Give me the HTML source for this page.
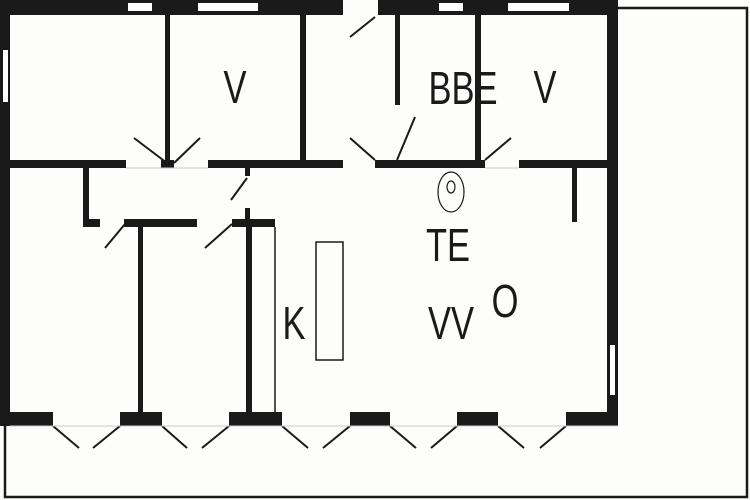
<!DOCTYPE html>
<html><head><style>html,body{margin:0;padding:0;background:#fff}svg{display:block}text{font-family:"Liberation Sans",sans-serif;fill:#1a1a1a}</style></head>
<body>
<svg width="750" height="500" viewBox="0 0 750 500" xmlns="http://www.w3.org/2000/svg">
<rect width="750" height="500" fill="#fdfdfb"/>
<g fill="none" stroke="#1a1a1a" stroke-width="2.5">
<polyline points="618,8 747,8 747,497 5,497 5,424"/>
</g>
<g fill="#1a1a1a">
<!-- outer walls -->
<rect x="0" y="0" width="343" height="15"/>
<rect x="378" y="0" width="240" height="15"/>
<rect x="0" y="0" width="10" height="426"/>
<rect x="607" y="0" width="11" height="426"/>
<!-- bottom wall blocks -->
<rect x="0" y="412" width="53" height="14"/>
<rect x="120" y="412" width="42" height="14"/>
<rect x="229" y="412" width="53" height="14"/>
<rect x="350" y="412" width="40" height="14"/>
<rect x="457" y="412" width="41" height="14"/>
<rect x="566" y="412" width="52" height="14"/>
<!-- upper room walls -->
<rect x="10" y="160" width="116" height="8"/>
<rect x="161" y="160" width="13" height="8"/>
<rect x="208" y="160" width="135" height="8"/>
<rect x="165" y="15" width="5" height="150"/>
<rect x="300" y="15" width="6" height="148"/>
<rect x="395" y="15" width="5" height="90"/>
<rect x="475" y="15" width="6" height="150"/>
<rect x="375" y="160" width="110" height="8"/>
<rect x="519" y="160" width="89" height="8"/>
<rect x="572" y="168" width="5" height="54"/>
<!-- hallway -->
<rect x="83" y="168" width="6" height="59"/>
<rect x="83" y="219" width="17" height="8"/>
<rect x="124" y="219" width="73" height="8"/>
<rect x="232" y="219" width="43" height="8"/>
<rect x="245" y="168" width="5" height="8"/>
<rect x="245" y="208" width="5" height="19"/>
<rect x="138" y="222" width="5" height="190"/>
<rect x="246" y="222" width="6" height="190"/>
</g>
<!-- windows -->
<g fill="#fff">
<rect x="128" y="3" width="24" height="8"/>
<rect x="198" y="3" width="60" height="8"/>
<rect x="439" y="3" width="24" height="8"/>
<rect x="508" y="3" width="61" height="8"/>
<rect x="3" y="50" width="5" height="52"/>
<rect x="610" y="345" width="5" height="50"/>
</g>
<g stroke="#1a1a1a" stroke-width="2" fill="none">
<line x1="275" y1="227" x2="275" y2="412" stroke-width="1.5"/>
<rect x="316" y="242" width="27" height="118" stroke-width="1.5"/>
<line x1="167" y1="163" x2="134" y2="138"/>
<line x1="174" y1="163" x2="200" y2="138"/>
<line x1="350" y1="37" x2="375" y2="17"/>
<line x1="350" y1="138" x2="375" y2="160"/>
<line x1="397" y1="160" x2="415" y2="117"/>
<line x1="485" y1="160" x2="511" y2="138"/>
<line x1="231" y1="200" x2="247" y2="178"/>
<line x1="105" y1="248" x2="125" y2="224"/>
<line x1="205" y1="248" x2="232" y2="224"/>
<line x1="53" y1="426" x2="79" y2="448"/>
<line x1="93" y1="448" x2="120" y2="426"/>
<line x1="162" y1="426" x2="187" y2="448"/>
<line x1="202" y1="448" x2="229" y2="426"/>
<line x1="282" y1="426" x2="308" y2="448"/>
<line x1="323" y1="448" x2="350" y2="426"/>
<line x1="390" y1="426" x2="416" y2="448"/>
<line x1="431" y1="448" x2="457" y2="426"/>
<line x1="498" y1="426" x2="524" y2="448"/>
<line x1="540" y1="448" x2="566" y2="426"/>
<ellipse cx="451" cy="192" rx="13" ry="20" stroke-width="1.2"/>
<ellipse cx="451" cy="187" rx="4" ry="6" stroke-width="1.2"/>
</g>
<g stroke="#ccc" stroke-width="1">
<line x1="10" y1="426" x2="618" y2="426"/>
<line x1="126" y1="168" x2="208" y2="168"/>
<line x1="485" y1="168" x2="519" y2="168"/>
</g>
<g font-size="46">
<text x="235" y="103" text-anchor="middle" transform="translate(235 0) scale(0.75 1) translate(-235 0)">V</text>
<text x="463" y="104" text-anchor="middle" transform="translate(463 0) scale(0.75 1) translate(-463 0)">BBE</text>
<text x="545" y="103" text-anchor="middle" transform="translate(545 0) scale(0.75 1) translate(-545 0)">V</text>
<text x="448" y="261" text-anchor="middle" transform="translate(448 0) scale(0.75 1) translate(-448 0)">TE</text>
<text x="451" y="339" text-anchor="middle" transform="translate(451 0) scale(0.75 1) translate(-451 0)">VV</text>
<text x="505" y="317" text-anchor="middle" transform="translate(505 0) scale(0.75 1) translate(-505 0)">O</text>
<text x="294" y="339" text-anchor="middle" transform="translate(294 0) scale(0.75 1) translate(-294 0)">K</text>
</g>
</svg>
</body></html>
